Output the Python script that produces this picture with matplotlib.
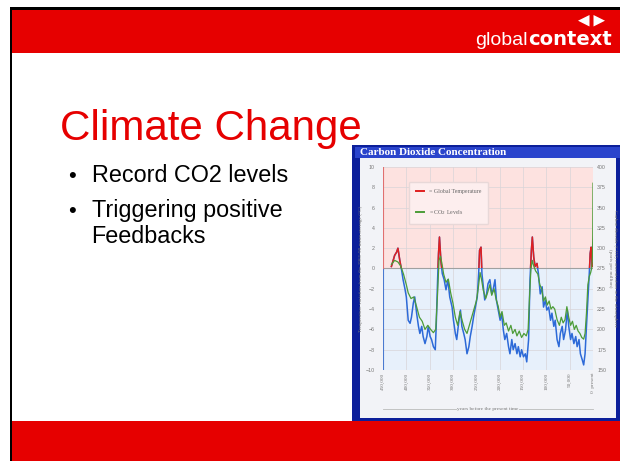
#!/usr/bin/env python3

import numpy as np
import matplotlib
matplotlib.use('Agg')
from matplotlib import pyplot as plt
from matplotlib.patches import Rectangle, Polygon
from matplotlib.lines import Line2D

plt.rcParams['font.family'] = ['Liberation Sans', 'DejaVu Sans']

# slide text
title = "Climate Change"
bullets = ["Record CO2 levels", "Triggering positive", "Feedbacks"]
chart_title = "Carbon Dioxide Concentration"

# temperature record, thousands of years before present / deg C
temp_age = [432, 425, 421, 418, 414, 410, 407, 403, 400, 396, 392, 389, 385, 382,
            378, 374, 371, 367, 364, 360, 356, 353, 349, 346, 342, 338, 336, 333,
            331, 329, 326, 323, 319, 315, 311, 307, 302, 299, 295, 292, 288, 284,
            281, 277, 274, 270, 266, 263, 259, 256, 252, 248, 245, 243, 240, 238,
            235, 232, 228, 225, 221, 217, 214, 210, 207, 203, 199, 196, 192, 189,
            185, 181, 178, 174, 171, 167, 163, 160, 156, 153, 149, 145, 142, 138,
            135, 132, 130, 127, 124, 120, 117, 113, 109, 106, 102, 99, 95, 91, 88,
            84, 81, 77, 73, 70, 66, 63, 59, 55, 52, 48, 45, 41, 37, 34, 30, 27, 23,
            20, 17, 14, 11, 8, 6, 4, 2, 0]
temp_val = [0.2, 1.3, 1.6, 2.0, 0.8, -0.2, -1.1, -2.0, -2.8, -5.1, -5.4, -4.8, -3.4,
            -2.8, -4.4, -5.7, -6.4, -5.7, -6.7, -7.4, -6.7, -5.7, -6.7, -7.0, -7.7,
            -8.0, -5.7, -1.1, 1.5, 3.1, 0.8, -0.5, -1.1, -2.1, -1.1, -2.8, -3.8,
            -5.1, -6.4, -7.0, -5.4, -4.1, -5.7, -6.4, -7.0, -8.4, -7.7, -6.7, -5.7,
            -4.8, -3.8, -2.8, -0.5, 1.8, 2.1, -0.5, -1.8, -3.1, -2.5, -1.5, -1.1,
            -2.5, -2.1, -1.1, -3.1, -4.1, -5.1, -4.4, -6.1, -7.0, -6.4, -7.7, -8.4,
            -7.0, -8.0, -7.4, -8.4, -7.7, -8.7, -8.0, -8.7, -8.4, -9.2, -7.0, -1.1,
            1.8, 3.1, 1.1, 0.2, 0.5, -0.5, -2.5, -1.8, -3.8, -3.1, -4.1, -3.8, -5.1,
            -4.4, -5.7, -5.1, -7.0, -7.7, -6.4, -5.7, -7.0, -6.1, -4.1, -5.7, -7.0,
            -6.4, -7.4, -6.7, -7.7, -7.0, -8.4, -9.0, -9.5, -8.4, -5.7, -3.1, -0.5,
            1.5, 2.1, 0.2, 0.5]

# CO2 record, thousands of years before present / ppm
co2_age = [432, 425, 418, 412, 406, 400, 396, 390, 384, 378, 372, 366, 360, 354,
           348, 342, 337, 333, 330, 327, 324, 320, 315, 310, 305, 300, 295, 290,
           285, 280, 275, 270, 265, 260, 255, 250, 246, 242, 239, 235, 230, 226,
           221, 217, 212, 208, 203, 199, 195, 190, 186, 181, 176, 172, 167, 163,
           158, 153, 148, 143, 139, 136, 133, 130, 127, 123, 118, 114, 110, 106,
           102, 98, 94, 90, 86, 82, 77, 72, 68, 64, 60, 56, 52, 48, 44, 40, 36,
           32, 28, 24, 20, 17, 14, 11, 8, 5, 3, 1.5, 0.5, 0]
co2_val = [280, 285, 283, 278, 268, 255, 245, 238, 240, 228, 215, 210, 200, 205,
           200, 196, 200, 245, 285, 290, 282, 268, 258, 262, 245, 232, 215, 205,
           222, 210, 200, 195, 205, 215, 225, 235, 250, 270, 262, 248, 238, 245,
           255, 242, 250, 238, 228, 215, 222, 205, 208, 198, 205, 195, 200, 192,
           198, 190, 195, 192, 200, 240, 275, 285, 278, 272, 268, 255, 250, 235,
           240, 230, 235, 225, 228, 225, 212, 205, 215, 208, 212, 228, 215, 205,
           210, 200, 205, 198, 195, 190, 188, 195, 220, 255, 265, 270, 275, 285,
           315, 380]

x_ticks = [450, 400, 350, 300, 250, 200, 150, 100, 50, 0]
x_labels = ["450,000", "400,000", "350,000", "300,000", "250,000", "200,000",
            "150,000", "100,000", "50,000", "0  present"]

red = '#e60000'
W, H = 620, 461

fig = plt.figure(figsize=(6.2, 4.61), dpi=100)

# slide background, pixel coordinates
bg = fig.add_axes([0, 0, 1, 1])
bg.set_xlim(0, W)
bg.set_ylim(H, 0)
bg.axis('off')
bg.add_patch(Rectangle((10, 7), W - 10, 3.5, color='black', lw=0))
bg.add_patch(Rectangle((9.5, 7), 2.5, H - 7, color='black', lw=0))
bg.add_patch(Rectangle((12, 10.5), W - 12, 42.5, color=red, lw=0))
bg.add_patch(Rectangle((12, 421), W - 12, 40, color=red, lw=0))

# logo
g = bg.text(475, 45, "global", color='white', fontsize=14, va='baseline')
r = fig.canvas.get_renderer()
ext = g.get_window_extent(renderer=r)
x_end = ext.x1 * W / fig.bbox.width
bg.text(x_end + 0.5, 45, "context", color='white', fontsize=14, fontweight='bold',
        family='DejaVu Sans', va='baseline')
bg.add_patch(Polygon([(578, 20.7), (589.5, 15), (589.5, 26.5)], color='white', lw=0))
bg.add_patch(Polygon([(593.5, 15), (605, 20.7), (593.5, 26.5)], color='white', lw=0))

# title and bullets
bg.text(59.5, 139.5, title, color=red, fontsize=30.3, va='baseline')
bg.text(72, 181.7, u"\u2022", fontsize=16, ha='center', va='baseline')
bg.text(91.5, 181.7, bullets[0], fontsize=16.8, va='baseline')
bg.text(72, 216.7, u"\u2022", fontsize=16, ha='center', va='baseline')
bg.text(91.5, 216.7, bullets[1], fontsize=16.8, va='baseline')
bg.text(91.5, 243.3, bullets[2], fontsize=16.8, va='baseline')

# chart frame
bg.add_patch(Rectangle((352, 145), W - 352, 276, color='#0c1f9a', lw=0, zorder=5))
bg.add_patch(Rectangle((355, 146.5), W - 355, 11.5, color='#2a44cc', lw=0, zorder=5))
bg.add_patch(Rectangle((359.5, 158), 256, 259.5, color='#f2f3f7', lw=0, zorder=5))
bg.text(360, 152.5, chart_title, color='white', fontsize=8, family='Liberation Serif',
        fontweight='bold', va='center', zorder=6)

# the plot
ax = fig.add_axes([383 / W, 1 - 370 / H, 210 / W, 203 / H])
ax.set_xlim(450, 0)
ax.set_ylim(-10, 10)
ax.axhspan(0, 10, color='#fde2e0', lw=0, zorder=0)
ax.axhspan(-10, 0, color='#e7f0fb', lw=0, zorder=0)
for xt in x_ticks:
    ax.axvline(xt, color='#d8d4d8', lw=0.5, zorder=1)
for yt in range(-10, 11, 2):
    ax.axhline(yt, color='#d8d4d8', lw=0.5, zorder=1)
ax.axhline(0, color='#a0a0a0', lw=0.8, zorder=1)
ax.axvline(450, ymin=0.5, ymax=1, color='#e07070', lw=0.8, zorder=2)
ax.axvline(450, ymin=0, ymax=0.5, color='#4a7ad0', lw=0.8, zorder=2)

ax.plot(temp_age, temp_val, color='#2d6ad8', lw=1.1, zorder=3)
hot, = ax.plot(temp_age, temp_val, color='#e02020', lw=1.1, zorder=4)
clip = Rectangle((0, 0.5), 1, 0.5, transform=ax.transAxes)
hot.set_clip_path(clip)

for s in ax.spines.values():
    s.set_visible(False)
ax.set_yticks(range(-10, 11, 2))
ax.set_xticks(x_ticks)
ax.set_xticklabels(x_labels, rotation=90, fontsize=3.8, color='#777777',
                   family='Liberation Serif')
ax.tick_params(axis='both', length=0, pad=2)
ax.tick_params(axis='y', labelsize=3.8, labelcolor='#777777', pad=6)
ax.set_ylabel("Temperature variation from the 1961-90 mean average (\u00b0C)",
              fontsize=3.8, color='#777777', family='Liberation Serif', labelpad=2)

ax2 = ax.twinx()
ax2.set_ylim(150, 400)
ax2.plot(co2_age, co2_val, color='#4c9c38', lw=0.9, zorder=3)
for s in ax2.spines.values():
    s.set_visible(False)
ax2.set_yticks(range(150, 401, 25))
ax2.tick_params(axis='y', length=0, labelsize=3.8, labelcolor='#777777', pad=3)
ax2.set_ylabel("Carbon dioxide (CO2) concentration in the atmosphere\n(parts per million)",
               fontsize=3.8, color='#777777', family='Liberation Serif', rotation=270,
               labelpad=8, linespacing=1.4)

# x-axis caption with rule
ax.plot([0.0, 1.0], [-0.19, -0.19], transform=ax.transAxes, clip_on=False,
        color='#bbbbbb', lw=0.6)
ax.text(0.5, -0.19, "years before the present time", transform=ax.transAxes,
        fontsize=3.8, color='#777777', family='Liberation Serif', ha='center',
        va='center', bbox=dict(facecolor='#f2f3f7', edgecolor='none', pad=0.5))

# legend
handles = [Line2D([], [], color='#e02020', lw=1.4),
           Line2D([], [], color='#4c9c38', lw=1.4)]
leg = ax.legend(handles, ["= Global Temperature", "= CO$_2$ Levels"],
                loc='upper left', bbox_to_anchor=(0.11, 0.94), fontsize=4.2,
                handlelength=1.4, labelspacing=2.4, borderpad=1.2,
                facecolor='#fdeeee', edgecolor='#e8d8d8', framealpha=1,
                prop={'family': 'Liberation Serif', 'size': 4.2})
for t in leg.get_texts():
    t.set_color('#666666')

fig.savefig('out.png', dpi=100)
